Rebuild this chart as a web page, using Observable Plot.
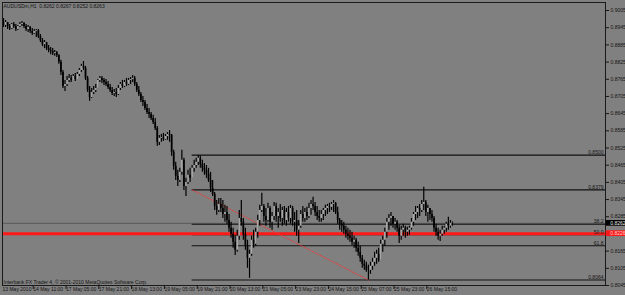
<!DOCTYPE html>
<html><head><meta charset="utf-8">
<script src="https://cdn.jsdelivr.net/npm/d3@7"></script>
<script src="https://cdn.jsdelivr.net/npm/@observablehq/plot@0.6"></script>
<style>
html,body{margin:0;padding:0;background:#808080;}
#chart{width:625px;height:295px;overflow:hidden;}
</style></head><body><div id="chart"></div>
<script>
// ---- DATA ----
const symbol = "AUDUSDm,H1";
const lastQuote = ["0.8262", "0.8267", "0.8252", "0.8263"];
const copyright = "Interbank FX Trader 4, © 2001-2010 MetaQuotes Software Corp.";

const opens = [0.8963,0.8953,0.8963,0.8949,0.8942,0.8956,0.8949,0.8939,0.8949,0.8956,
0.8960,0.8949,0.8939,0.8946,0.8932,0.8925,0.8932,0.8935,0.8914,0.8900,
0.8886,0.8893,0.8872,0.8865,0.8862,0.8855,0.8858,0.8848,0.8824,0.8789,
0.8740,0.8747,0.8761,0.8768,0.8761,0.8775,0.8764,0.8782,0.8796,0.8810,
0.8803,0.8768,0.8726,0.8701,0.8719,0.8726,0.8733,0.8761,0.8768,0.8761,
0.8754,0.8747,0.8736,0.8726,0.8715,0.8719,0.8712,0.8733,0.8747,0.8740,
0.8754,0.8747,0.8761,0.8764,0.8768,0.8747,0.8726,0.8712,0.8691,0.8684,
0.8663,0.8649,0.8642,0.8628,0.8614,0.8593,0.8545,0.8559,0.8562,0.8555,
0.8565,0.8572,0.8569,0.8510,0.8461,0.8426,0.8412,0.8440,0.8482,0.8391,
0.8405,0.8430,0.8419,0.8454,0.8464,0.8475,0.8489,0.8468,0.8454,0.8447,
0.8433,0.8412,0.8384,0.8363,0.8321,0.8307,0.8328,0.8314,0.8293,0.8300,
0.8272,0.8245,0.8224,0.8196,0.8168,0.8217,0.8279,0.8266,0.8224,0.8182,
0.8140,0.8154,0.8203,0.8189,0.8231,0.8272,0.8307,0.8321,0.8286,0.8272,
0.8314,0.8266,0.8286,0.8321,0.8286,0.8300,0.8279,0.8307,0.8272,0.8300,
0.8279,0.8314,0.8266,0.8272,0.8238,0.8252,0.8293,0.8279,0.8300,0.8286,
0.8314,0.8328,0.8321,0.8300,0.8286,0.8279,0.8293,0.8307,0.8314,0.8321,
0.8318,0.8328,0.8332,0.8300,0.8272,0.8259,0.8252,0.8238,0.8224,0.8217,
0.8210,0.8196,0.8203,0.8175,0.8161,0.8140,0.8119,0.8112,0.8098,0.8098,
0.8112,0.8126,0.8140,0.8154,0.8133,0.8189,0.8203,0.8231,0.8266,0.8279,
0.8286,0.8259,0.8266,0.8245,0.8217,0.8238,0.8245,0.8231,0.8238,0.8245,
0.8266,0.8293,0.8300,0.8314,0.8307,0.8328,0.8335,0.8300,0.8314,0.8293,
0.8279,0.8245,0.8231,0.8217,0.8224,0.8238,0.8245,0.8259,0.8252,0.8262];

const highs = [0.8977,0.8970,0.8963,0.8956,0.8960,0.8963,0.8956,0.8953,0.8963,0.8967,
0.8963,0.8956,0.8953,0.8949,0.8942,0.8939,0.8939,0.8939,0.8921,0.8907,
0.8900,0.8893,0.8883,0.8876,0.8872,0.8865,0.8862,0.8851,0.8831,0.8796,
0.8761,0.8775,0.8782,0.8778,0.8782,0.8785,0.8789,0.8803,0.8817,0.8827,
0.8810,0.8775,0.8740,0.8733,0.8740,0.8747,0.8764,0.8775,0.8775,0.8768,
0.8764,0.8757,0.8747,0.8736,0.8729,0.8733,0.8743,0.8754,0.8761,0.8761,
0.8768,0.8768,0.8771,0.8778,0.8775,0.8754,0.8740,0.8719,0.8705,0.8691,
0.8677,0.8663,0.8649,0.8639,0.8628,0.8600,0.8569,0.8572,0.8576,0.8572,
0.8579,0.8586,0.8572,0.8517,0.8475,0.8447,0.8454,0.8517,0.8489,0.8419,
0.8447,0.8454,0.8464,0.8482,0.8489,0.8499,0.8496,0.8482,0.8471,0.8464,
0.8454,0.8440,0.8412,0.8370,0.8342,0.8349,0.8349,0.8342,0.8325,0.8321,
0.8293,0.8266,0.8245,0.8220,0.8238,0.8307,0.8342,0.8279,0.8245,0.8203,
0.8168,0.8217,0.8238,0.8245,0.8290,0.8325,0.8367,0.8328,0.8314,0.8332,
0.8321,0.8300,0.8335,0.8332,0.8314,0.8328,0.8318,0.8321,0.8314,0.8321,
0.8325,0.8321,0.8300,0.8307,0.8272,0.8307,0.8321,0.8314,0.8318,0.8332,
0.8342,0.8353,0.8335,0.8321,0.8307,0.8307,0.8314,0.8325,0.8328,0.8332,
0.8335,0.8342,0.8335,0.8318,0.8279,0.8272,0.8266,0.8252,0.8245,0.8238,
0.8231,0.8217,0.8210,0.8196,0.8182,0.8150,0.8133,0.8126,0.8116,0.8126,
0.8140,0.8161,0.8168,0.8175,0.8203,0.8217,0.8245,0.8279,0.8293,0.8300,
0.8286,0.8279,0.8272,0.8255,0.8252,0.8259,0.8252,0.8248,0.8252,0.8279,
0.8300,0.8321,0.8321,0.8328,0.8342,0.8388,0.8342,0.8325,0.8314,0.8307,
0.8286,0.8259,0.8245,0.8238,0.8252,0.8252,0.8266,0.8283,0.8272,0.8267];

const lows = [0.8946,0.8946,0.8939,0.8935,0.8939,0.8942,0.8932,0.8935,0.8946,0.8949,
0.8942,0.8932,0.8928,0.8925,0.8918,0.8921,0.8911,0.8907,0.8893,0.8879,
0.8872,0.8865,0.8858,0.8851,0.8848,0.8845,0.8841,0.8817,0.8778,0.8733,
0.8722,0.8740,0.8754,0.8754,0.8761,0.8757,0.8764,0.8775,0.8789,0.8796,
0.8761,0.8719,0.8688,0.8698,0.8712,0.8719,0.8733,0.8754,0.8750,0.8743,
0.8740,0.8729,0.8719,0.8708,0.8705,0.8701,0.8708,0.8726,0.8733,0.8736,
0.8740,0.8743,0.8747,0.8754,0.8740,0.8719,0.8705,0.8684,0.8670,0.8656,
0.8642,0.8628,0.8621,0.8607,0.8586,0.8531,0.8534,0.8545,0.8548,0.8552,
0.8552,0.8545,0.8496,0.8447,0.8412,0.8391,0.8405,0.8430,0.8377,0.8356,
0.8398,0.8405,0.8419,0.8440,0.8454,0.8464,0.8454,0.8440,0.8430,0.8419,
0.8405,0.8370,0.8356,0.8307,0.8290,0.8300,0.8300,0.8279,0.8266,0.8259,
0.8231,0.8210,0.8175,0.8150,0.8161,0.8203,0.8252,0.8203,0.8168,0.8105,
0.8070,0.8147,0.8175,0.8182,0.8210,0.8252,0.8300,0.8266,0.8252,0.8266,
0.8245,0.8238,0.8272,0.8266,0.8245,0.8266,0.8252,0.8259,0.8252,0.8266,
0.8259,0.8252,0.8231,0.8217,0.8192,0.8245,0.8266,0.8266,0.8272,0.8279,
0.8290,0.8307,0.8286,0.8272,0.8266,0.8266,0.8272,0.8286,0.8293,0.8300,
0.8307,0.8300,0.8293,0.8259,0.8238,0.8231,0.8224,0.8210,0.8203,0.8196,
0.8185,0.8175,0.8161,0.8147,0.8126,0.8105,0.8098,0.8091,0.8064,0.8084,
0.8098,0.8112,0.8119,0.8126,0.8133,0.8161,0.8182,0.8210,0.8238,0.8252,
0.8245,0.8238,0.8231,0.8192,0.8203,0.8217,0.8210,0.8217,0.8220,0.8238,
0.8252,0.8272,0.8279,0.8286,0.8300,0.8307,0.8286,0.8266,0.8272,0.8266,
0.8231,0.8217,0.8203,0.8199,0.8217,0.8224,0.8231,0.8238,0.8245,0.8252];

const closes = [0.8953,0.8963,0.8949,0.8942,0.8956,0.8949,0.8939,0.8949,0.8956,0.8960,
0.8949,0.8939,0.8946,0.8932,0.8925,0.8932,0.8935,0.8914,0.8900,0.8886,
0.8893,0.8872,0.8865,0.8862,0.8855,0.8858,0.8848,0.8824,0.8789,0.8740,
0.8747,0.8761,0.8768,0.8761,0.8775,0.8764,0.8782,0.8796,0.8810,0.8803,
0.8768,0.8726,0.8701,0.8719,0.8726,0.8733,0.8761,0.8768,0.8761,0.8754,
0.8747,0.8736,0.8726,0.8715,0.8719,0.8712,0.8733,0.8747,0.8740,0.8754,
0.8747,0.8761,0.8764,0.8768,0.8747,0.8726,0.8712,0.8691,0.8684,0.8663,
0.8649,0.8642,0.8628,0.8614,0.8593,0.8545,0.8559,0.8562,0.8555,0.8565,
0.8572,0.8569,0.8510,0.8461,0.8426,0.8412,0.8440,0.8482,0.8391,0.8405,
0.8430,0.8419,0.8454,0.8464,0.8475,0.8489,0.8468,0.8454,0.8447,0.8433,
0.8412,0.8384,0.8363,0.8321,0.8307,0.8328,0.8314,0.8293,0.8300,0.8272,
0.8245,0.8224,0.8196,0.8168,0.8217,0.8279,0.8266,0.8224,0.8182,0.8140,
0.8154,0.8203,0.8189,0.8231,0.8272,0.8307,0.8321,0.8286,0.8272,0.8314,
0.8266,0.8286,0.8321,0.8286,0.8300,0.8279,0.8307,0.8272,0.8300,0.8279,
0.8314,0.8266,0.8272,0.8238,0.8252,0.8293,0.8279,0.8300,0.8286,0.8314,
0.8328,0.8321,0.8300,0.8286,0.8279,0.8293,0.8307,0.8314,0.8321,0.8318,
0.8328,0.8332,0.8300,0.8272,0.8259,0.8252,0.8238,0.8224,0.8217,0.8210,
0.8196,0.8203,0.8175,0.8161,0.8140,0.8119,0.8112,0.8098,0.8098,0.8112,
0.8126,0.8140,0.8154,0.8133,0.8189,0.8203,0.8231,0.8266,0.8279,0.8286,
0.8259,0.8266,0.8245,0.8217,0.8238,0.8245,0.8231,0.8238,0.8245,0.8266,
0.8293,0.8300,0.8314,0.8307,0.8328,0.8335,0.8300,0.8314,0.8293,0.8279,
0.8245,0.8231,0.8217,0.8224,0.8238,0.8245,0.8259,0.8252,0.8262,0.8263];

// time axis: bar index of each labelled bar, and its label
const firstLabel = "13 May 2010";
const xTickBars = [14, 30, 46, 62, 78, 94, 110, 126, 142, 158, 174, 190, 206];
const xTickLabels = ["14 May 11:00", "17 May 05:00", "17 May 21:00", "18 May 13:00",
  "19 May 05:00", "19 May 21:00", "20 May 13:00", "21 May 05:00", "23 May 23:00",
  "24 May 15:00", "25 May 07:00", "25 May 23:00", "26 May 15:00"];

// price axis ticks
const yTicks = [0.9005, 0.8945, 0.8885, 0.8825, 0.8765, 0.8705, 0.8645, 0.8585, 0.8525,
  0.8465, 0.8405, 0.8345, 0.8285, 0.8225, 0.8165, 0.8105, 0.8045];

// Fibonacci object: anchors and levels
const fibStartBar = 92, fibEndBar = 178;
const fibHigh = 0.8379, fibLow = 0.8064;
const fibPrices = [0.8500, 0.8379, 0.8259, 0.8222, 0.8184, 0.8064];
const fibLabels = ["0.8500", "0.8379", "38.2", "50.0", "61.8", "0.8064"];

// other lines
const bidPrice = 0.8262;
const redLinePrice = 0.8226;

// ---- CHART ----
const xMin = -0.5, xMax = 293.65;
const rows = opens.map((o, i) => ({i, o, h: highs[i], l: lows[i], c: closes[i]}));
const fibRows = fibPrices.map((p, k) => ({p, label: fibLabels[k]}));
const trend = [{x: fibStartBar, y: fibHigh}, {x: fibEndBar, y: fibLow}];
const fmt = d3.format(".4f");
const FS = 5;
const ink = "#141414";

const chart = Plot.plot({
  width: 625, height: 295,
  marginTop: 2, marginRight: 20, marginBottom: 10, marginLeft: 2,
  x: {type: "linear", domain: [xMin, xMax]},
  y: {domain: [0.8045, 0.9033]},
  style: {background: "#808080", fontFamily: "'Liberation Sans', Arial, sans-serif", fontSize: FS + "px", color: ink},
  marks: [
    Plot.ruleY([bidPrice], {stroke: "#5a5a5a", strokeWidth: 1}),
    Plot.ruleY(fibRows, {y: "p", x1: fibStartBar, x2: xMax, stroke: "#101010", strokeWidth: 1.1}),
    Plot.ruleY([redLinePrice], {stroke: "#ff1a1a", strokeWidth: 3}),
    Plot.line(trend, {x: "x", y: "y", stroke: "#ff3030", strokeWidth: 0.8, strokeDasharray: "1.5,1.5"}),
    // candles: wicks
    Plot.ruleX(rows, {x: "i", y1: "l", y2: "h", stroke: "#000", strokeWidth: 1.2}),
    // candles: bodies
    Plot.ruleX(rows, {x: "i", y1: "o", y2: "c", stroke: d => d.c > d.o ? "#a8a8a8" : "#000", strokeWidth: 1.7}),
    Plot.text(fibRows, {x: xMax, y: "p", text: "label", textAnchor: "end", lineAnchor: "bottom", dx: -2, dy: -1, fontSize: FS, fill: ink}),
    Plot.frame({stroke: "#1a1a1a", strokeWidth: 1}),
    Plot.axisY({anchor: "right", ticks: yTicks, tickFormat: fmt, tickSize: 3, tickPadding: 2, fontSize: FS, color: ink, label: null}),
    Plot.axisX({ticks: xTickBars, tickFormat: d => xTickLabels[xTickBars.indexOf(d)], tickSize: 4, tickPadding: -2, textAnchor: "start", dx: 1, fontSize: FS, color: ink, label: null}),
    Plot.text([firstLabel], {frameAnchor: "bottom-left", textAnchor: "start", lineAnchor: "top", dx: 0, dy: 2, fontSize: FS, fill: ink}),
    Plot.rect([bidPrice], {x1: xMax + 0.3, x2: xMax + 10.5, y1: d => d - 0.0010, y2: d => d + 0.0010, fill: "#000"}),
    Plot.text([bidPrice], {x: xMax + 2.3, y: d => d, text: fmt, textAnchor: "start", fill: "#e8e8e8", fontSize: FS}),
    Plot.rect([redLinePrice], {x1: xMax + 0.3, x2: xMax + 10.5, y1: d => d - 0.0010, y2: d => d + 0.0010, fill: "#ff1a1a"}),
    Plot.text([redLinePrice], {x: xMax + 2.3, y: d => d, text: fmt, textAnchor: "start", fill: "#ffd0d0", fontSize: FS}),
    Plot.text([`${symbol}  ${lastQuote.join(" ")}`], {frameAnchor: "top-left", textAnchor: "start", lineAnchor: "top", dx: 1, dy: 1.5, fontSize: FS, fill: ink}),
    Plot.text([copyright], {frameAnchor: "bottom-left", textAnchor: "start", lineAnchor: "bottom", dx: 1, dy: -1.5, fontSize: FS, fill: ink})
  ]
});
document.getElementById("chart").appendChild(chart);
</script>
</body></html>
